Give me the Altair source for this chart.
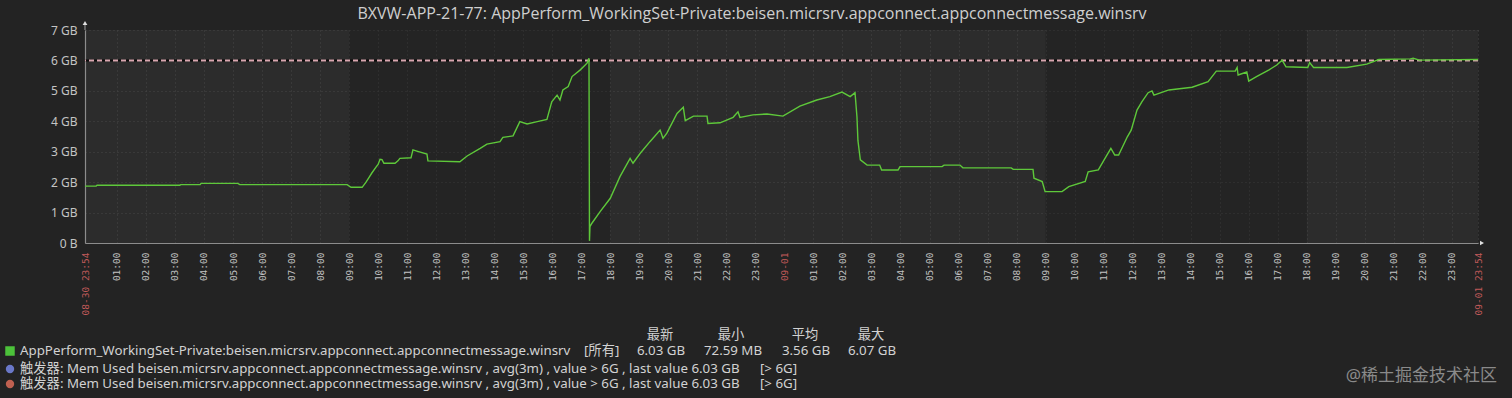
import altair as alt
import pandas as pd

title_text = "BXVW-APP-21-77: AppPerform_WorkingSet-Private:beisen.micrsrv.appconnect.appconnectmessage.winsrv"
series_name = "AppPerform_WorkingSet-Private:beisen.micrsrv.appconnect.appconnectmessage.winsrv"
trigger_text = "触发器: Mem Used beisen.micrsrv.appconnect.appconnectmessage.winsrv , avg(3m) , value > 6G , last value 6.03 GB"
trigger_tag = "[> 6G]"
stat_headers = ["最新", "最小", "平均", "最大"]
stat_values = ["6.03 GB", "72.59 MB", "3.56 GB", "6.07 GB"]
watermark = "@稀土掘金技术社区"

times = [
    "08-30 23:54", "08-31 00:17", "08-31 00:19", "08-31 03:10", "08-31 03:12", "08-31 03:52",
    "08-31 03:54", "08-31 05:10", "08-31 05:14", "08-31 08:56", "08-31 09:04", "08-31 09:27",
    "08-31 09:35", "08-31 09:41", "08-31 09:47", "08-31 09:56", "08-31 10:00", "08-31 10:04",
    "08-31 10:08", "08-31 10:12", "08-31 10:35", "08-31 10:41", "08-31 10:45", "08-31 11:08",
    "08-31 11:12", "08-31 11:20", "08-31 11:41", "08-31 11:43", "08-31 12:49", "08-31 13:04",
    "08-31 13:31", "08-31 13:45", "08-31 14:12", "08-31 14:18", "08-31 14:39", "08-31 14:53",
    "08-31 15:08", "08-31 15:29", "08-31 15:49", "08-31 15:59", "08-31 16:10", "08-31 16:16",
    "08-31 16:22", "08-31 16:33", "08-31 16:41", "08-31 16:58", "08-31 17:12", "08-31 17:16",
    "08-31 17:17", "08-31 17:18", "08-31 17:22", "08-31 17:39", "08-31 18:00", "08-31 18:20",
    "08-31 18:41", "08-31 18:47", "08-31 19:02", "08-31 19:22", "08-31 19:43", "08-31 19:49",
    "08-31 19:57", "08-31 20:18", "08-31 20:31", "08-31 20:35", "08-31 20:52", "08-31 21:20",
    "08-31 21:22", "08-31 21:47", "08-31 22:14", "08-31 22:24", "08-31 22:28", "08-31 22:55",
    "08-31 23:24", "08-31 23:57", "09-01 00:32", "09-01 01:07", "09-01 01:34", "09-01 01:59",
    "09-01 02:16", "09-01 02:26", "09-01 02:30", "09-01 02:32", "09-01 02:37", "09-01 02:51",
    "09-01 03:17", "09-01 03:21", "09-01 03:55", "09-01 03:59", "09-01 05:26", "09-01 05:30",
    "09-01 06:03", "09-01 06:09", "09-01 07:49", "09-01 07:53", "09-01 08:34", "09-01 08:36",
    "09-01 08:53", "09-01 08:59", "09-01 09:34", "09-01 09:48", "09-01 10:22", "09-01 10:28",
    "09-01 10:49", "09-01 11:01", "09-01 11:15", "09-01 11:23", "09-01 11:31", "09-01 11:49",
    "09-01 11:57", "09-01 12:09", "09-01 12:19", "09-01 12:32", "09-01 12:40", "09-01 12:44",
    "09-01 13:15", "09-01 14:03", "09-01 14:36", "09-01 14:53", "09-01 15:32", "09-01 15:36",
    "09-01 15:38", "09-01 15:56", "09-01 16:00", "09-01 16:16", "09-01 16:42", "09-01 16:58",
    "09-01 17:09", "09-01 17:17", "09-01 18:02", "09-01 18:06", "09-01 18:14", "09-01 19:23",
    "09-01 20:04", "09-01 20:29", "09-01 21:34", "09-01 21:40", "09-01 21:53", "09-01 23:54",
]
values_gb = [
    1.87, 1.87, 1.90, 1.90, 1.92, 1.92,
    1.96, 1.96, 1.92, 1.92, 1.83, 1.83,
    2.00, 2.15, 2.30, 2.50, 2.58, 2.75,
    2.74, 2.62, 2.62, 2.70, 2.78, 2.80,
    3.06, 3.02, 2.92, 2.70, 2.67, 2.86,
    3.11, 3.25, 3.33, 3.47, 3.52, 3.99,
    3.91, 3.99, 4.06, 4.64, 4.86, 4.70,
    5.03, 5.14, 5.47, 5.69, 5.91, 6.07,
    0.07, 0.54, 0.65, 1.03, 1.47, 2.18,
    2.78, 2.62, 2.95, 3.33, 3.71, 3.44,
    3.61, 4.26, 4.46, 4.02, 4.17, 4.17,
    3.93, 3.95, 4.13, 4.31, 4.13, 4.21,
    4.24, 4.17, 4.50, 4.70, 4.81, 4.96,
    4.81, 4.94, 4.15, 3.37, 2.73, 2.56,
    2.56, 2.40, 2.40, 2.51, 2.51, 2.56,
    2.56, 2.47, 2.47, 2.42, 2.42, 2.13,
    2.02, 1.69, 1.69, 1.85, 2.02, 2.34,
    2.40, 2.73, 3.11, 2.89, 2.89, 3.49,
    3.71, 4.37, 4.64, 4.94, 5.00, 4.86,
    5.03, 5.12, 5.30, 5.65, 5.65, 5.77,
    5.52, 5.62, 5.32, 5.47, 5.69, 5.85,
    6.01, 5.79, 5.77, 5.93, 5.77, 5.77,
    5.88, 6.03, 6.05, 6.07, 6.01, 6.03,
]

threshold_gb = 6
work_periods = [("08-31 09:00", "08-31 18:00"), ("09-01 09:00", "09-01 18:00")]
range_start = "08-30 23:54"
range_end = "09-01 23:54"
y_ticks = [0, 1, 2, 3, 4, 5, 6, 7]

DAY_INDEX = {"08-30": 0, "08-31": 1, "09-01": 2}


def to_min(s):
    md, hm = s.split(" ")
    h, m = hm.split(":")
    return DAY_INDEX[md] * 1440 + int(h) * 60 + int(m) - (23 * 60 + 54)


# tick positions and labels
tick_stamps = [range_start] + [f"08-31 {h:02d}:00" for h in range(1, 24)] + ["09-01 00:00"] + \
              [f"09-01 {h:02d}:00" for h in range(1, 24)] + [range_end]
tick_labels = []
for s in tick_stamps:
    if s == range_start or s == range_end:
        tick_labels.append(s)
    elif s.endswith("00:00"):
        tick_labels.append(s.split(" ")[0])
    else:
        tick_labels.append(s.split(" ")[1])
tick_vals = [to_min(s) for s in tick_stamps]
red_vals = [to_min(s) for s in (range_start, "09-01 00:00", range_end)]

line_df = pd.DataFrame({"t": [to_min(s) for s in times], "v": values_gb})
band_df = pd.DataFrame({"s": [to_min(a) for a, b in work_periods], "e": [to_min(b) for a, b in work_periods]})

W, H = 1393, 213
x_scale = alt.Scale(domain=[to_min(range_start), to_min(range_end)], nice=False, zero=False)
y_scale = alt.Scale(domain=[0, 7], nice=False)

label_expr = "[" + ",".join("'" + l + "'" for l in tick_labels) + "][indexof([" + \
             ",".join(str(v) for v in tick_vals) + "], datum.value)]"
red_test = " || ".join(f"datum.value == {v}" for v in red_vals)

x_axis = alt.Axis(
    values=tick_vals, labelExpr=label_expr, labelAngle=270, labelFont="DejaVu Sans Mono",
    labelFontSize=9.5, labelColor={"condition": {"test": red_test, "value": "#c25a5a"}, "value": "#c4c4c4"},
    labelPadding=9, ticks=False, grid=True, gridColor="#474747", gridDash=[1, 3], gridWidth=1,
    domainColor="#8c8c8c", domainWidth=1.2, title=None, labelOverlap=False, labelFlush=False, labelBound=False,
)
y_axis = alt.Axis(
    values=y_ticks, labelExpr="datum.value == 0 ? '0 B' : datum.value + ' GB'", labelFont="Noto Sans",
    labelFontSize=12, labelColor="#c4c4c4", labelPadding=8, ticks=False, grid=True, gridColor="#474747",
    gridDash=[1, 3], gridWidth=1, domainColor="#8c8c8c", domainWidth=1.2, title=None,
    labelOverlap=False, labelFlush=False, labelBound=False,
)


def X(field):
    return alt.X(field, scale=x_scale, axis=x_axis)


def Y(field):
    return alt.Y(field, scale=y_scale, axis=y_axis)


bands = alt.Chart(band_df).mark_rect(color="#000000", opacity=0.18).encode(
    x=X("s:Q"), x2="e:Q",
    y=alt.datum(0, scale=y_scale, axis=y_axis), y2=alt.datum(7),
)

thr_df = pd.DataFrame({"v": [threshold_gb]})
thr_black = alt.Chart(thr_df).mark_rule(color="#0a0a0a", strokeWidth=2).encode(y=Y("v:Q"))
thr_pink = alt.Chart(thr_df).mark_rule(color="#d9a7b0", strokeWidth=2, strokeDash=[5, 3]).encode(y=Y("v:Q"))

line = alt.Chart(line_df).mark_line(color="#5ec83a", strokeWidth=1.4, interpolate="linear").encode(
    x=X("t:Q"), y=Y("v:Q"))

arrow_df = pd.DataFrame({"t": [to_min(range_start)], "v": [7]})
arrow_up = alt.Chart(arrow_df).mark_point(shape="triangle-up", filled=True, color="#e0e0e0", size=22,
                                          opacity=1, yOffset=-7).encode(x=X("t:Q"), y=Y("v:Q"))
axis_ext = alt.Chart(arrow_df).mark_rule(color="#8c8c8c", strokeWidth=1.2).encode(
    x=X("t:Q"), y=Y("v:Q"), y2=alt.value(-6))
arrow_df2 = pd.DataFrame({"t": [to_min(range_end)], "v": [0]})
arrow_right = alt.Chart(arrow_df2).mark_point(shape="triangle-right", filled=True, color="#e0e0e0", size=22,
                                              opacity=1, xOffset=4).encode(x=X("t:Q"), y=Y("v:Q"))

FONT = "Noto Sans, Noto Sans CJK SC"


def label(text, x, y, size=13.3, color="#d2d2d2", align="left", font=FONT, opacity=1.0):
    return alt.Chart(pd.DataFrame({"s": [text]})).mark_text(
        align=align, baseline="middle", fontSize=size, color=color, font=font, opacity=opacity
    ).encode(text="s:N", x=alt.value(x), y=alt.value(y))


OX, OY = 85, 30  # plot origin in page
texts = [label(title_text, 752 - OX, 14 - OY, size=16, color="#cfcfcf", align="center", font="Open Sans")]
head_x = [660, 731, 805, 871]
val_x = [661, 733, 806, 872]
for hx, h in zip(head_x, stat_headers):
    texts.append(label(h, hx - OX, 335 - OY, align="center"))
for vx, v in zip(val_x, stat_values):
    texts.append(label(v, vx - OX, 351 - OY, align="center"))
texts.append(label(series_name, 20 - OX, 351 - OY))
texts.append(label("[所有]", 584 - OX, 351 - OY))
for yy in (369, 384):
    texts.append(label(trigger_text, 20 - OX, yy - OY))
    texts.append(label(trigger_tag, 760 - OX, yy - OY))
texts.append(label(watermark, 1497 - OX, 376 - OY, size=17, color="#8a8a8a", align="right"))

marker_sq = alt.Chart(pd.DataFrame({"s": ["a"]})).mark_square(color="#4cc23a", size=90, opacity=1).encode(
    x=alt.value(10 - OX), y=alt.value(351 - OY))
marker_c1 = alt.Chart(pd.DataFrame({"s": ["b"]})).mark_circle(color="#6a78c8", size=70, opacity=1).encode(
    x=alt.value(10 - OX), y=alt.value(369 - OY))
marker_c2 = alt.Chart(pd.DataFrame({"s": ["c"]})).mark_circle(color="#c06050", size=70, opacity=1).encode(
    x=alt.value(10 - OX), y=alt.value(384 - OY))

chart = alt.layer(
    bands, thr_black, thr_pink, line, axis_ext, arrow_up, arrow_right, marker_sq, marker_c1, marker_c2, *texts
).properties(
    width=W, height=H,
    autosize=alt.AutoSizeParams(type="none"),
    padding={"left": OX, "top": OY, "right": 1512 - OX - W, "bottom": 398 - OY - H},
    background="#232323",
).configure_view(fill="#2c2c2c", strokeWidth=0)

chart.save("out.html", embed_options={"renderer": "svg", "actions": False})
